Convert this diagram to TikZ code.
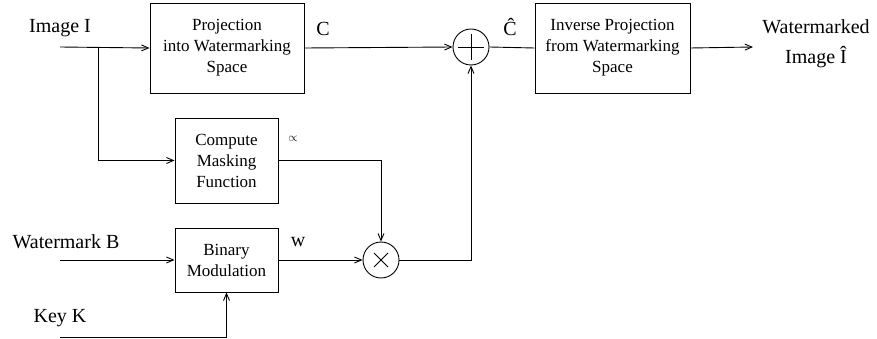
\documentclass[tikz,border=0pt]{standalone}
\usepackage{fontspec}
\setmainfont{Liberation Serif}
\usetikzlibrary{arrows.meta}
\tikzset{
  blk/.style={draw, line width=.9pt, align=center, inner sep=0pt,
    font=\fontsize{17}{21}\selectfont},
  opr/.style={draw, circle, line width=.9pt, minimum size=36pt, inner sep=0pt},
  lbl/.style={font=\fontsize{20}{22}\selectfont, inner sep=0pt},
}
\begin{document}
\begin{tikzpicture}[>={Straight Barb[length=7pt,width=6pt]}, x=1pt, y=-1pt, line width=.9pt]
\useasboundingbox (0,0) rectangle (877,339);
% blocks
\node[blk, minimum width=154pt, minimum height=90pt] (proj) at (227,48)
  {Projection\\into Watermarking\\Space};
\node[blk, minimum width=155pt, minimum height=90pt] (inv) at (612.5,48)
  {Inverse Projection\\from Watermarking\\Space};
\node[blk, minimum width=103pt, minimum height=85pt] (mask) at (226.5,160.5)
  {Compute\\Masking\\Function};
\node[blk, minimum width=103pt, minimum height=64pt] (mod) at (226.5,260)
  {Binary\\Modulation};
\node[opr] (sum) at (471,47) {};
\node[opr] (mul) at (381,260) {};
\draw ([yshift=-5pt]sum.north) -- ([yshift=5pt]sum.south);
\draw ([xshift=5pt]sum.west) -- ([xshift=-5pt]sum.east);
\draw ([shift={(-7pt,-7pt)}]mul.center) -- ([shift={(7pt,7pt)}]mul.center);
\draw ([shift={(-7pt,7pt)}]mul.center) -- ([shift={(7pt,-7pt)}]mul.center);
% inputs and outputs
\coordinate (inI) at (60,47);
\coordinate (split) at (98,47);
\coordinate (inB) at (60,260);
\coordinate (inK) at (60,337);
\coordinate (outI) at (753,47);
\node[lbl] (tI) at (60,28) {Image I};
\node[lbl] (tB) at (66,242) {Watermark B};
\node[lbl] (tK) at (60,318) {Key K};
\node[lbl, align=center, font=\fontsize{20}{30}\selectfont] (tOut) at (816,44)
  {Watermarked\\Image \^{I}};
% signal labels
\node[lbl] (tC) at (323,29) {C};
\node[lbl] (tCh) at (510,27) {\^{C}};
\node[lbl] (tw) at (298,242) {w};
\node[font=\fontsize{13}{13}\selectfont, inner sep=0pt] (ta) at (293,139) {$\propto$};
% connectors
\draw[->] (inI) -- (proj.west);
\draw[->] (split) |- (mask.west);
\draw[->] (proj.east) -- (sum.west);
\draw (sum.east) -- (inv.west);
\draw[->] (inv.east) -- (outI);
\draw[->] (mask.east) -| (mul.north);
\draw[->] (inB) -- (mod.west);
\draw[->] (inK) -| (mod.south);
\draw[->] (mod.east) -- (mul.west);
\draw[->] (mul.east) -| (sum.south);

\end{tikzpicture}
\end{document}
